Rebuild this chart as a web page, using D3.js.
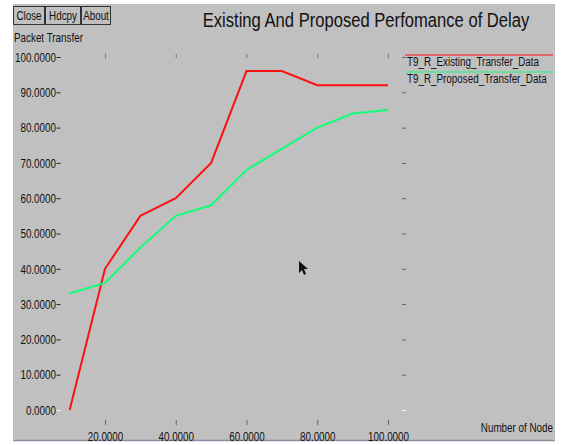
<!DOCTYPE html>
<html>
<head>
<meta charset="utf-8">
<script src="https://cdn.jsdelivr.net/npm/d3@7"></script>
<style>
  body { margin: 0; background: #fff; }
  svg text { font-family: "Liberation Sans Narrow", "Arial Narrow", "Liberation Sans", sans-serif; }
</style>
</head>
<body>
<div id="chart"></div>
<script>
const nodes = [10, 20, 30, 40, 50, 60, 70, 80, 90, 100];
const existing = [0, 40, 55, 60, 70, 96, 96, 92, 92, 92];
const proposed = [33, 36, 46, 55, 58, 68, 74, 80, 84, 85];
const xTicks = [20, 40, 60, 80, 100];
const yTicks = [0, 10, 20, 30, 40, 50, 60, 70, 80, 90, 100];
const seriesNames = ['T9_R_Existing_Transfer_Data', 'T9_R_Proposed_Transfer_Data'];
const colors = ['#ff1010', '#10ff78'];

const width = 563;
const height = 445;

const svg = d3.select('#chart')
  .append('svg')
  .attr('width', width)
  .attr('height', height);

// make the wide fallback font look condensed
function squeeze(sel, k = 0.82) {
  sel.each(function() {
    const w = this.getComputedTextLength();
    d3.select(this)
      .attr('textLength', w * k)
      .attr('lengthAdjust', 'spacingAndGlyphs');
  });
}

// window panel
svg.append('rect')
  .attr('x', 13).attr('y', 4)
  .attr('width', 542).attr('height', 436)
  .attr('fill', '#c0c0c0');
svg.append('line')
  .attr('x1', 13).attr('x2', 555)
  .attr('y1', 440.5).attr('y2', 440.5)
  .attr('stroke', '#8890a0').attr('stroke-width', 1.5);

// buttons
const buttons = [['Close', 13, 31], ['Hdcpy', 45, 35], ['About', 81, 29]];
buttons.forEach(([label, bx, bw]) => {
  svg.append('rect')
    .attr('x', bx + 0.5).attr('y', 6.5)
    .attr('width', bw).attr('height', 18)
    .attr('fill', '#c0c0c0').attr('stroke', '#333');
  svg.append('text')
    .attr('x', bx + bw / 2 + 0.5).attr('y', 20)
    .attr('text-anchor', 'middle')
    .attr('font-size', 12).attr('fill', '#111')
    .text(label)
    .call(squeeze);
});

svg.append('text')
  .attr('x', 366).attr('y', 27)
  .attr('text-anchor', 'middle')
  .attr('font-size', 20).attr('fill', '#111')
  .text('Existing And Proposed Perfomance of Delay')
  .call(squeeze, 0.83);

svg.append('text')
  .attr('x', 14).attr('y', 42)
  .attr('font-size', 12).attr('fill', '#111')
  .text('Packet Transfer')
  .call(squeeze);

svg.append('text')
  .attr('x', 553).attr('y', 432)
  .attr('text-anchor', 'end')
  .attr('font-size', 12).attr('fill', '#111')
  .text('Number of Node')
  .call(squeeze);

const x = d3.scaleLinear()
  .domain([20, 100])
  .range([105, 388]);

const y = d3.scaleLinear()
  .domain([0, 100])
  .range([410, 57]);

// y axis labels
const yAxis = svg.append('g')
  .attr('transform', 'translate(56,0)')
  .call(d3.axisLeft(y).tickValues(yTicks).tickSize(0).tickPadding(0).tickFormat(d => d.toFixed(4)));
yAxis.select('.domain').remove();
yAxis.selectAll('text')
  .attr('font-size', 12).attr('fill', '#111').attr('dy', '0.35em')
  .call(squeeze);
yAxis.selectAll('.tick').append('line')
  .attr('x1', 0.5).attr('x2', 4.5)
  .attr('stroke', d => d === 0 ? '#fff' : '#222');

// right side ticks
svg.append('g')
  .selectAll('line')
  .data(yTicks)
  .join('line')
    .attr('x1', 402).attr('x2', 406)
    .attr('y1', d => y(d) + 0.5).attr('y2', d => y(d) + 0.5)
    .attr('stroke', d => d === 0 ? '#fff' : '#666');

// x axis labels
const xAxis = svg.append('g')
  .attr('transform', 'translate(0,437)')
  .call(d3.axisBottom(x).tickValues(xTicks).tickSize(0).tickPadding(0).tickFormat(d => d.toFixed(4)));
xAxis.select('.domain').remove();
xAxis.selectAll('text')
  .attr('font-size', 12).attr('fill', '#111').attr('dy', '0.35em')
  .call(squeeze);

// top and bottom tick marks
svg.append('g')
  .selectAll('line')
  .data(xTicks)
  .join('line')
    .attr('x1', d => x(d) + 0.5).attr('x2', d => x(d) + 0.5)
    .attr('y1', 54).attr('y2', 58)
    .attr('stroke', '#777');
svg.append('g')
  .selectAll('line')
  .data(xTicks)
  .join('line')
    .attr('x1', d => x(d) + 0.5).attr('x2', d => x(d) + 0.5)
    .attr('y1', 420).attr('y2', 425)
    .attr('stroke', '#666');

// lines
const line = d3.line()
  .x(d => x(d[0]))
  .y(d => y(d[1]));

[existing, proposed].forEach((vals, i) => {
  svg.append('path')
    .datum(nodes.map((n, j) => [n, vals[j]]))
    .attr('fill', 'none')
    .attr('stroke', colors[i])
    .attr('stroke-width', 2)
    .attr('d', line);
});

// legend
seriesNames.forEach((name, i) => {
  const ly = 55 + i * 17;
  svg.append('line')
    .attr('x1', 405).attr('x2', 553)
    .attr('y1', ly).attr('y2', ly)
    .attr('stroke', colors[i]).attr('stroke-width', 1);
  svg.append('text')
    .attr('x', 407).attr('y', ly + 11)
    .attr('font-size', 12).attr('fill', '#111')
    .text(name)
    .call(squeeze);
});

// mouse pointer
svg.append('path')
  .attr('transform', 'translate(299,261)')
  .attr('d', 'M0,0 L0,12 L3,9 L5,14 L7,13 L5,8 L9,8 Z')
  .attr('fill', '#111');
</script>
</body>
</html>
